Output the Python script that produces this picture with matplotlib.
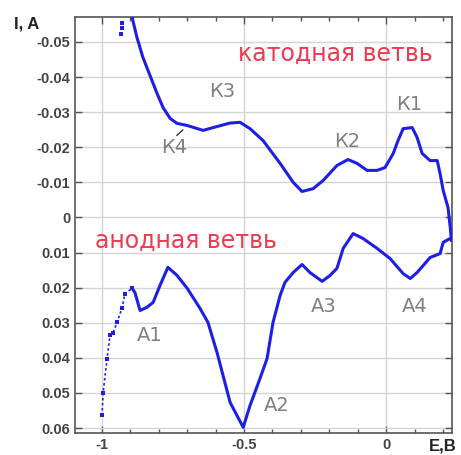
import matplotlib
matplotlib.use("Agg")
import matplotlib.pyplot as plt
from matplotlib.ticker import MultipleLocator

plt.rcParams['font.family'] = ['Liberation Sans', 'DejaVu Sans']
plt.rcParams['axes.unicode_minus'] = False

# Cathodic branch (E, I)
cath_E = [-0.894, -0.877, -0.856, -0.824, -0.806, -0.785, -0.760, -0.736, -0.700, -0.644,
          -0.609, -0.549, -0.514, -0.479, -0.433, -0.373, -0.327, -0.296, -0.257, -0.222,
          -0.173, -0.134, -0.102, -0.067, -0.032, -0.004, 0.025, 0.042, 0.060, 0.092,
          0.109, 0.127, 0.155, 0.180, 0.190, 0.201, 0.218, 0.226, 0.230]
cath_I = [-0.0570, -0.0513, -0.0456, -0.0390, -0.0353, -0.0313, -0.0282, -0.0268, -0.0262, -0.0248,
          -0.0256, -0.0269, -0.0271, -0.0253, -0.0219, -0.0154, -0.0100, -0.0074, -0.0082, -0.0105,
          -0.0148, -0.0165, -0.0154, -0.0134, -0.0134, -0.0142, -0.0182, -0.0219, -0.0253, -0.0256,
          -0.0228, -0.0182, -0.0162, -0.0162, -0.0125, -0.0077, -0.0028, 0.0030, 0.0065]
cath_stray_E = [-0.932, -0.930, -0.928]
cath_stray_I = [-0.0524, -0.0540, -0.0553]

# Anodic branch (E, I)
anod_E = [-1.000, -0.996, -0.982, -0.972, -0.961, -0.947, -0.930, -0.919, -0.894, -0.884,
          -0.866, -0.842, -0.820, -0.796, -0.768, -0.736, -0.700, -0.655, -0.627, -0.595,
          -0.574, -0.549, -0.503, -0.479, -0.444, -0.419, -0.398, -0.373, -0.356, -0.327,
          -0.296, -0.268, -0.225, -0.197, -0.173, -0.151, -0.116, -0.081, -0.032, 0.014,
          0.060, 0.085, 0.109, 0.155, 0.190, 0.201, 0.225]
anod_I = [0.0564, 0.0499, 0.0402, 0.0336, 0.0328, 0.0299, 0.0259, 0.0217, 0.0202, 0.0214,
          0.0265, 0.0256, 0.0242, 0.0194, 0.0142, 0.0165, 0.0202, 0.0259, 0.0299, 0.0385,
          0.0450, 0.0527, 0.0598, 0.0536, 0.0459, 0.0402, 0.0299, 0.0222, 0.0185, 0.0157,
          0.0134, 0.0157, 0.0182, 0.0165, 0.0145, 0.0088, 0.0046, 0.0060, 0.0088, 0.0117,
          0.0160, 0.0174, 0.0157, 0.0114, 0.0103, 0.0071, 0.0060]

y_ticks = [-0.05, -0.04, -0.03, -0.02, -0.01, 0, 0.01, 0.02, 0.03, 0.04, 0.05, 0.06]
y_labels = ["-0.05", "-0.04", "-0.03", "-0.02", "-0.01", "0",
            "0.01", "0.02", "0.03", "0.04", "0.05", "0.06"]
x_ticks = [-1, -0.5, 0]
x_labels = ["-1", "-0.5", "0"]

peak_labels = ["К3", "К4", "К2", "К1", "А1", "А2", "А3", "А4"]
peak_E = [-0.577, -0.746, -0.137, 0.081, -0.831, -0.384, -0.218, 0.099]
peak_I = [-0.0359, -0.0199, -0.0217, -0.0322, 0.0336, 0.0536, 0.0254, 0.0254]

blue = '#1e1ee6'
fig = plt.figure(figsize=(4.61, 4.55), dpi=100)
ax = fig.add_axes([0.1627, 0.0484, 0.8178, 0.9142])
ax.set_xlim(-1.095, 0.232)
ax.set_ylim(0.0614, -0.0571)

ax.grid(True, which='major', color='#d4d4d4', lw=1.0)
ax.set_axisbelow(True)

ax.plot(cath_E, cath_I, color=blue, lw=2.2, solid_joinstyle='round', zorder=3)
ax.plot(cath_stray_E, cath_stray_I, ls='none', color=blue, marker='s', ms=2.6, mew=0, zorder=3)
ax.plot(anod_E[:9], anod_I[:9], color=blue, lw=1.2, ls=(0, (1.5, 1.5)), zorder=3)
ax.plot(anod_E[:9], anod_I[:9], ls='none', color=blue, marker='s', ms=3, mew=0, zorder=3)
ax.plot(anod_E[8:], anod_I[8:], color=blue, lw=2.2, solid_joinstyle='round', zorder=3)

ax.set_yticks(y_ticks)
ax.set_yticklabels(y_labels)
ax.set_xticks(x_ticks)
ax.set_xticklabels(x_labels)
ax.xaxis.set_minor_locator(MultipleLocator(0.1))

ax.tick_params(axis='both', which='both', direction='in', top=True, right=True,
               color='#555555', labelcolor='#444444', labelsize=10.5)
ax.tick_params(axis='both', which='major', length=5, width=1)
ax.tick_params(axis='both', which='minor', length=3, width=1)
for lab in ax.get_xticklabels() + ax.get_yticklabels():
    lab.set_fontweight('bold')
for s in ax.spines.values():
    s.set_color('#555555')
    s.set_linewidth(1.2)

for t, e, i in zip(peak_labels, peak_E, peak_I):
    ax.text(e, i, t, color='#808080', fontsize=14, ha='center', va='center',
            family=['DejaVu Sans'])
ax.plot([-0.736, -0.716], [-0.0234, -0.0249], color='#333333', lw=1.0)

ax.text(-0.18, -0.0467, "катодная ветвь", color='#ee3a50', fontsize=17, ha='center',
        va='center', family=['DejaVu Sans'])
ax.text(-0.704, 0.0066, "анодная ветвь", color='#ee3a50', fontsize=17, ha='center',
        va='center', family=['DejaVu Sans'])

fig.text(27 / 461, 1 - 24 / 455, "I, A", fontsize=12, fontweight='bold', ha='center',
         va='center', color='#222222')
fig.text(443 / 461, 1 - 446 / 455, "E,B", fontsize=12, fontweight='bold', ha='center',
         va='center', color='#222222')

fig.savefig("out.png", dpi=100)
